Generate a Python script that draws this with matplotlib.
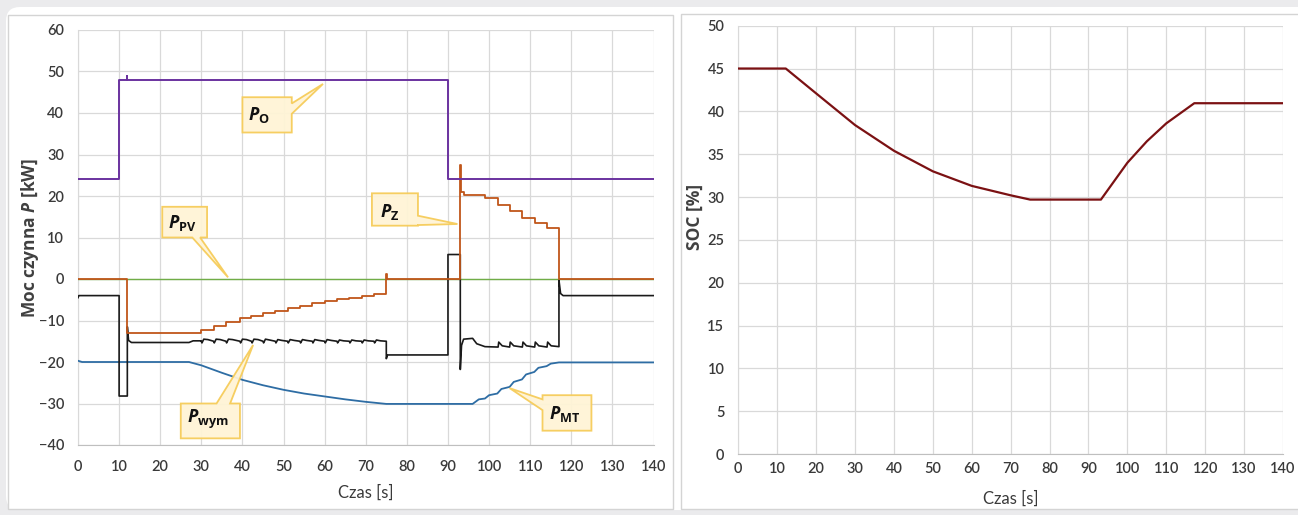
import matplotlib
matplotlib.use("Agg")
import matplotlib.pyplot as plt
from matplotlib import font_manager
from matplotlib.patches import Polygon, FancyBboxPatch, Rectangle
from matplotlib.transforms import IdentityTransform

# ---------------- data ----------------
time_ticks = list(range(0, 141, 10))
p_ticks = list(range(-40, 61, 10))
soc_ticks = list(range(0, 51, 5))

# P_O (purple) - explicit polyline
po_t = [0, 10, 10, 12, 12, 12, 90, 90, 140]
po_v = [24, 24, 48, 48, 49, 48, 48, 24, 24]

# P_PV (green)
pv_t = [0, 140]
pv_v = [0, 0]

# P_Z (brown) - steps (value holds until next time)
pz_t = [0, 12, 30, 33, 36, 39.4, 42.2, 45, 48, 51, 54, 57, 60, 63, 66, 69, 72,
        75, 75.15, 93, 93.15, 94.0, 99.1, 102.2, 105, 108.1, 111.1, 114.1, 117, 140]
pz_v = [0, -13.1, -12.2, -11.3, -10.3, -9.5, -8.8, -8.2, -7.6, -7.0, -6.4, -5.9, -5.4, -4.9, -4.5, -4.1, -3.6,
        1.2, 0, 27.5, 21.0, 20.3, 19.6, 17.9, 16.4, 14.8, 13.4, 12.2, 0, 0]

# P_wym (black) - explicit polyline
pw_t = [0, 0.2, 10, 10, 12, 12, 12.3, 13, 27, 28, 30,
        30, 30.15, 30.6, 31.6, 33, 33.15, 33.6, 34.6, 36, 36.15, 36.6, 37.6,
        39.4, 39.55, 40.0, 41.0, 42.2, 42.35, 42.8, 43.8, 45, 45.15, 45.6, 46.6,
        48, 48.15, 48.6, 49.6, 51, 51.15, 51.6, 52.6, 54, 54.15, 54.6, 55.6,
        57, 57.15, 57.6, 58.6, 60, 60.15, 60.6, 61.6, 63, 63.15, 63.6, 64.6,
        66, 66.15, 66.6, 67.6, 69, 69.15, 69.6, 70.6, 72, 72.15, 72.6, 73.6,
        75, 75, 75.3, 90, 90, 93, 93, 93.3, 93.8, 96, 97, 99,
        102.2, 102.35, 103.2, 105, 105.15, 106.0, 108.1, 108.25, 109.1,
        111.1, 111.25, 112.1, 114.1, 114.25, 115.1, 117, 117, 117.4, 118, 140]
pw_v = [-4.5, -4.0, -4.0, -28.2, -28.2, -11.5, -14.8, -15.3, -15.3, -14.9, -14.9,
        -15.0, -15.4, -14.5, -14.6, -15.0, -15.4, -14.5, -14.6, -15.0, -15.4, -14.5, -14.6,
        -15.0, -15.4, -14.5, -14.6, -15.0, -15.4, -14.5, -14.6, -15.0, -15.4, -14.5, -14.7,
        -15.0, -15.4, -14.6, -14.8, -15.0, -15.4, -14.6, -14.8, -15.0, -15.4, -14.6, -14.8,
        -15.0, -15.4, -14.6, -14.8, -15.0, -15.4, -14.6, -14.8, -15.0, -15.4, -14.7, -14.9,
        -15.0, -15.4, -14.7, -14.9, -15.0, -15.4, -14.7, -14.9, -15.0, -15.4, -14.7, -14.9,
        -15.0, -19.2, -18.3, -18.3, 5.9, 5.9, -21.8, -16.0, -14.5, -14.3, -15.6, -16.3,
        -16.4, -15.2, -16.1, -16.4, -15.2, -16.1, -16.4, -15.2, -16.1,
        -16.4, -15.2, -16.1, -16.4, -15.2, -16.1, -16.3, -0.3, -3.5, -4.0, -4.0]

# P_MT (blue)
pmt_t = [0, 1, 27, 30, 35, 40, 45, 50, 55, 60, 65, 70, 75, 96,
         97.5, 99, 100, 102, 103, 105, 106, 108, 109, 111, 112, 114, 115, 117, 140]
pmt_v = [-19.7, -20.0, -20.0, -20.8, -22.6, -24.3, -25.6, -26.7, -27.6, -28.3, -29.0, -29.6, -30.1, -30.1,
         -29.0, -28.8, -28.0, -27.6, -26.5, -26.0, -24.8, -24.2, -23.0, -22.4, -21.4, -21.0, -20.4, -20.1, -20.1]

# SOC (right chart)
soc_t = [0, 12.2, 20, 30, 40, 50, 60, 70, 75, 93.2, 100, 105, 110, 117.2, 140]
soc_v = [45, 45, 42.1, 38.4, 35.4, 33.0, 31.3, 30.2, 29.7, 29.7, 34.0, 36.5, 38.6, 40.95, 40.95]

# ---------------- fonts ----------------
names = {f.name for f in font_manager.fontManager.ttflist}
tick_font = "Liberation Sans Narrow" if "Liberation Sans Narrow" in names else "Lato"
label_font = "Open Sans"
plt.rcParams["mathtext.fontset"] = "custom"
plt.rcParams["mathtext.rm"] = "Open Sans"
plt.rcParams["mathtext.it"] = "Open Sans:italic"
plt.rcParams["mathtext.bf"] = "Open Sans:bold"
plt.rcParams["mathtext.bfit"] = "Open Sans:italic:bold"

# ---------------- figure ----------------
W, H = 1298, 515
fig = plt.figure(figsize=(W / 100, H / 100), dpi=100)
fig.patch.set_facecolor("#ebebed")

ident = IdentityTransform()
fig.add_artist(FancyBboxPatch((6, 5), 1320, 503, boxstyle="round,pad=0,rounding_size=14",
                              fc="white", ec="none", transform=ident, zorder=-10))
fig.add_artist(Rectangle((8, 6), 665, 494, fc="white", ec="#d4d4d4", lw=1.0,
                         transform=ident, zorder=-9))
fig.add_artist(Rectangle((681, 6), 640, 495, fc="white", ec="#d4d4d4", lw=1.0,
                         transform=ident, zorder=-9))

tick_color = "#3a3a3a"
grid_color = "#d9d9d9"

def style_axes(ax, xpad, ypad):
    ax.set_facecolor("none")
    ax.grid(True, color=grid_color, lw=0.9)
    ax.set_axisbelow(True)
    for s in ["top", "right"]:
        ax.spines[s].set_visible(False)
    ax.spines["left"].set_color(grid_color)
    ax.spines["bottom"].set_color("#bfbfbf")
    ax.tick_params(axis="x", length=0, pad=xpad, labelsize=10.5, labelcolor=tick_color)
    ax.tick_params(axis="y", length=0, pad=ypad, labelsize=10.5, labelcolor=tick_color)
    for lab in ax.get_xticklabels() + ax.get_yticklabels():
        lab.set_fontfamily(tick_font)
        lab.set_fontweight("semibold")

# ---------- left chart ----------
ax1 = fig.add_axes([78 / W, 1 - 445 / H, 575.5 / W, 415 / H])
ax1.plot(pv_t, pv_v, color="#70ad47", lw=1.0, zorder=3)
ax1.plot(pmt_t, pmt_v, color="#2e6da4", lw=1.3, zorder=3)
ax1.plot(pw_t, pw_v, color="#1a1a1a", lw=1.2, zorder=4)
ax1.plot(pz_t, pz_v, color="#c0561a", lw=1.3, drawstyle="steps-post", zorder=5)
ax1.plot(po_t, po_v, color="#6a329f", lw=1.4, zorder=5)
ax1.set_xlim(0, 140)
ax1.set_ylim(-40, 60)
ax1.set_xticks(time_ticks)
ax1.set_yticks(p_ticks)
style_axes(ax1, 11, 10)
ax1.set_xlabel("Czas [s]", fontsize=12, color=tick_color, fontfamily=tick_font)
ax1.xaxis.set_label_coords(0.5, -0.096)
ax1.set_ylabel(r"Moc czynna $\mathbfit{P}$ [kW]", fontsize=12.5, color="#404040",
               fontfamily=label_font, fontweight="bold")
ax1.yaxis.set_label_coords(-0.064, 0.5)

# callouts (annotation shapes, axes data coordinates)
callout_fc = "#fff4d6"
callout_ec = "#f6cc5a"
callouts = [
    (r"$\mathbfit{P}_{\mathbf{O}}$", (41.3, 39.5),
     [(40, 43.8), (52, 43.8), (52, 42.3), (59.6, 47.0), (52, 39.8), (52, 35.3), (40, 35.3)]),
    (r"$\mathbfit{P}_{\mathbf{PV}}$", (21.8, 13.4),
     [(20.5, 17.4), (31.4, 17.4), (31.4, 10.0), (29.7, 10.0), (36.5, 0.4), (27.8, 10.0), (20.5, 10.0)]),
    (r"$\mathbfit{P}_{\mathbf{wym}}$", (26.4, -33.8),
     [(25.0, -30.0), (33.7, -30.0), (42.6, -15.9), (37.0, -30.0), (39.4, -30.0), (39.4, -38.4), (25.0, -38.4)]),
    (r"$\mathbfit{P}_{\mathbf{Z}}$", (73.4, 16.2),
     [(71.5, 20.65), (82.7, 20.65), (82.7, 15.25), (92.3, 13.25), (82.7, 13.0), (82.7, 12.85), (71.5, 12.85)]),
    (r"$\mathbfit{P}_{\mathbf{MT}}$", (114.6, -32.6),
     [(113.0, -28.0), (124.9, -28.0), (124.9, -36.55), (113.0, -36.55), (113.0, -31.6), (105.0, -26.3), (113.0, -29.0)]),
]
for txt, tpos, verts in callouts:
    ax1.add_patch(Polygon(verts, closed=True, fc=callout_fc, ec=callout_ec, lw=1.3, zorder=6, alpha=0.95))
    ax1.text(tpos[0], tpos[1], txt, fontsize=13, color="#111111", ha="left", va="center", zorder=7)

# ---------- right chart ----------
ax2 = fig.add_axes([738.3 / W, 1 - 454 / H, 544.7 / W, 428.3 / H])
ax2.plot(soc_t, soc_v, color="#7b1113", lw=1.6, zorder=3)
ax2.set_xlim(0, 140)
ax2.set_ylim(0, 50)
ax2.set_xticks(time_ticks)
ax2.set_yticks(soc_ticks)
style_axes(ax2, 6, 10)
ax2.set_xlabel("Czas [s]", fontsize=12, color=tick_color, fontfamily=tick_font)
ax2.xaxis.set_label_coords(0.5, -0.085)
ax2.set_ylabel("SOC [%]", fontsize=12.5, color="#404040", fontfamily=label_font, fontweight="bold")
ax2.yaxis.set_label_coords(-0.063, 0.553)

fig.savefig("out.png", dpi=100, facecolor=fig.get_facecolor())
